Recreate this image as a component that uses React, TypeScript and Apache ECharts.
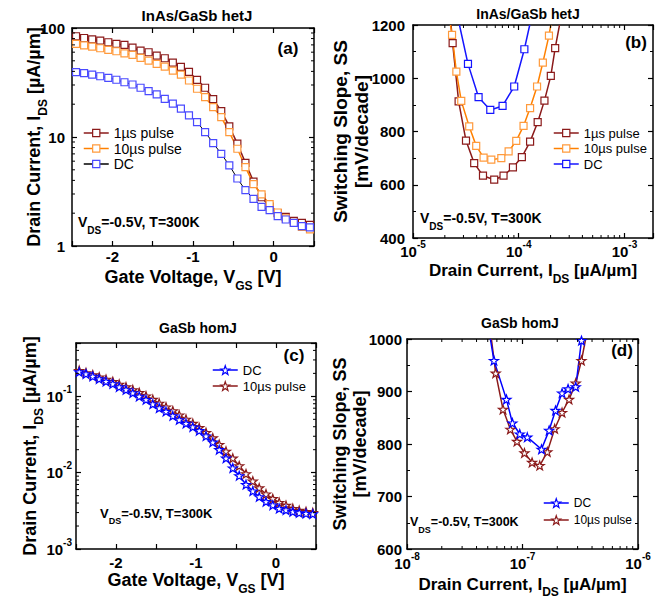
import React, { useEffect, useRef } from 'react';
import * as echarts from 'echarts';

const FONT = '"Liberation Sans", Arial, Helvetica, sans-serif';
const DARK_RED = '#8B1A1A';
const ORANGE = '#FF8000';
const ORANGE_SYM = '#FF9A3C';
const BLUE_A = '#4A4AFF';
const BLUE_B = '#1515FF';
const BLUE_C = '#0000FF';
const STAR = 'path://M50,3 L61.8,37.6 L98,38.2 L69.1,60.4 L79.4,95 L50,74.5 L20.6,95 L30.9,60.4 L2,38.2 L38.2,37.6 Z';

// ---------- Panel (a): InAs/GaSb hetJ, I_DS vs V_GS ----------
const vgsA = [-2.45, -2.35, -2.25, -2.15, -2.05, -1.95, -1.85, -1.75, -1.65, -1.55, -1.45, -1.35, -1.25, -1.15, -1.05, -0.95, -0.85, -0.75, -0.65, -0.55, -0.45, -0.35, -0.25, -0.15, -0.05, 0.05, 0.15, 0.25, 0.35, 0.45];
const idsA1us = [84, 81, 78.8, 76.6, 74, 71.4, 70, 66.1, 62, 59.9, 55.8, 52.8, 48.2, 44, 39.6, 33.4, 28.3, 22.3, 17.3, 12.5, 8.7, 5.8, 3.9, 2.8, 2.3, 2.0, 1.85, 1.7, 1.63, 1.56];
const idsA10us = [71.4, 69.4, 67.5, 65.2, 62.9, 61.2, 58.6, 56.6, 53.2, 50.3, 46.9, 44.3, 40.7, 37.4, 33, 27.7, 23.2, 18.8, 15.2, 11.1, 7.8, 5.3, 3.7, 2.97, 2.42, 2.03, 1.79, 1.63, 1.5, 1.42];
const idsADC = [39.3, 38.5, 37.4, 36.1, 34.9, 33.5, 31.8, 30.3, 28.3, 26.4, 24.6, 22.4, 20.2, 18.2, 15.8, 13.7, 11.1, 8.8, 7.0, 5.5, 4.16, 3.25, 2.71, 2.29, 2.13, 1.88, 1.75, 1.63, 1.52, 1.48];
const minorA = [2, 3, 4, 5, 6, 7, 8, 9, 20, 30, 40, 50, 60, 70, 80, 90];

// ---------- Panel (b): InAs/GaSb hetJ, SS vs I_DS ----------
const idsB1us = [2.29e-5, 2.37e-5, 2.70e-5, 3.17e-5, 3.79e-5, 4.59e-5, 5.86e-5, 7.18e-5, 8.81e-5, 1.07e-4, 1.28e-4, 1.51e-4, 1.75e-4, 2.01e-4, 2.21e-4, 2.43e-4];
const ssB1us = [1200, 1132, 913, 766, 681, 634, 619, 634, 665, 704, 762, 835, 916, 1009, 1113, 1200];
const idsB10us = [2.26e-5, 2.34e-5, 2.57e-5, 2.86e-5, 3.40e-5, 3.96e-5, 4.65e-5, 5.50e-5, 6.84e-5, 8.02e-5, 9.47e-5, 1.11e-4, 1.28e-4, 1.49e-4, 1.69e-4, 1.93e-4, 2.01e-4];
const ssB10us = [1200, 1163, 1025, 915, 819, 746, 702, 694, 700, 725, 765, 821, 888, 969, 1059, 1160, 1200];
const idsBDC = [2.75e-5, 3.31e-5, 4.17e-5, 5.38e-5, 7.03e-5, 9.06e-5, 1.13e-4, 1.27e-4];
const ssBDC = [1200, 1054, 929, 881, 896, 969, 1109, 1200];
const minorB = [2e-5, 3e-5, 4e-5, 5e-5, 6e-5, 7e-5, 8e-5, 9e-5, 2e-4, 3e-4, 4e-4, 5e-4, 6e-4, 7e-4, 8e-4, 9e-4];

// ---------- Panel (c): GaSb homJ, I_DS vs V_GS ----------
const vgsC = [-2.46, -2.375, -2.29, -2.21, -2.125, -2.04, -1.96, -1.875, -1.79, -1.71, -1.625, -1.54, -1.46, -1.375, -1.29, -1.21, -1.125, -1.04, -0.96, -0.875, -0.79, -0.71, -0.625, -0.54, -0.46, -0.375, -0.29, -0.21, -0.125, -0.04, 0.04, 0.125, 0.21, 0.29, 0.375, 0.46];
const idsCDC = [0.209, 0.197, 0.183, 0.169, 0.157, 0.146, 0.133, 0.122, 0.111, 0.100, 0.0904, 0.0794, 0.0703, 0.0635, 0.0557, 0.0493, 0.0442, 0.0398, 0.0355, 0.0302, 0.0251, 0.0200, 0.0155, 0.0115, 0.00912, 0.0070, 0.00575, 0.00483, 0.00417, 0.00376, 0.00339, 0.00324, 0.00309, 0.00298, 0.00292, 0.00288];
const idsC10us = [0.218, 0.204, 0.191, 0.179, 0.167, 0.156, 0.144, 0.133, 0.122, 0.112, 0.101, 0.0912, 0.0813, 0.0724, 0.0646, 0.0569, 0.0501, 0.0442, 0.0389, 0.0335, 0.0285, 0.0234, 0.0191, 0.0155, 0.0123, 0.00966, 0.00776, 0.00631, 0.00525, 0.00457, 0.00407, 0.00372, 0.00339, 0.0032, 0.00309, 0.00299];
const minorC = [2e-3, 3e-3, 4e-3, 5e-3, 6e-3, 7e-3, 8e-3, 9e-3, 2e-2, 3e-2, 4e-2, 5e-2, 6e-2, 7e-2, 8e-2, 9e-2, 2e-1, 3e-1, 4e-1];

// ---------- Panel (d): GaSb homJ, SS vs I_DS ----------
const idsDDC = [5.27e-8, 5.66e-8, 7.26e-8, 8.18e-8, 9.47e-8, 1.10e-7, 1.46e-7, 1.70e-7, 1.93e-7, 2.20e-7, 2.48e-7, 2.89e-7, 3.24e-7, 3.26e-7];
const ssDDC = [1000, 959, 885, 840, 819, 813, 790, 826, 864, 897, 905, 909, 997, 1000];
const idsD10us = [5.38e-8, 5.86e-8, 6.78e-8, 7.85e-8, 8.96e-8, 1.04e-7, 1.21e-7, 1.41e-7, 1.64e-7, 1.90e-7, 2.20e-7, 2.53e-7, 2.89e-7, 3.24e-7, 3.52e-7];
const ssD10us = [1000, 935, 866, 828, 805, 783, 765, 759, 785, 829, 860, 885, 916, 959, 1000];
const minorD = [2e-8, 3e-8, 4e-8, 5e-8, 6e-8, 7e-8, 8e-8, 9e-8, 2e-7, 3e-7, 4e-7, 5e-7, 6e-7, 7e-7, 8e-7, 9e-7];

// ---------- layout ----------
const GRIDS = [
  { left: 72, top: 28, width: 242, height: 218 },
  { left: 413, top: 25, width: 240, height: 213 },
  { left: 76, top: 343, width: 240, height: 206 },
  { left: 407, top: 339, width: 231, height: 210 },
];

const tickRich = {
  p: { fontFamily: FONT, fontSize: 15, fontWeight: 'bold', color: '#000', lineHeight: 15, verticalAlign: 'middle' },
  b: { fontFamily: FONT, fontSize: 15, fontWeight: 'bold', color: '#000', lineHeight: 14, verticalAlign: 'middle' },
  sup: { fontFamily: FONT, fontSize: 10, fontWeight: 'bold', color: '#000', lineHeight: 10, padding: [0, 0, 9, 0], verticalAlign: 'bottom' },
};

// subscript placed `offset` px below the main text centre; L = line height of the main text
const subRich = (fs: number, subFs: number, offset: number, L = fs + 2) => ({
  m: { fontFamily: FONT, fontSize: fs, fontWeight: 'bold', color: '#000', fill: '#000', lineHeight: L, verticalAlign: 'middle' },
  s: { fontFamily: FONT, fontSize: subFs, fontWeight: 'bold', color: '#000', fill: '#000', lineHeight: subFs, padding: [Math.max(0, Math.round(offset + L / 2 - subFs / 2)), 0, 0, 0], verticalAlign: 'top' },
});

const fmtLog = (v: number) => {
  const e = Math.log10(v);
  const r = Math.round(e);
  if (Math.abs(e - r) > 1e-6) return '';
  return `{b|10}{sup|${r}}`;
};
const fmtLogPlain = (v: number) => {
  const e = Math.log10(v);
  const r = Math.round(e);
  if (Math.abs(e - r) > 1e-6) return '';
  return `{p|${Math.round(v)}}`;
};
const fmtVolt = (v: number) => (Math.abs(v - Math.round(v)) < 1e-9 ? `{p|${Math.round(v) === 0 ? 0 : Math.round(v)}}` : '');
const fmtLin = (v: number) => `{p|${v}}`;

function mkAxis(o: any) {
  return {
    axisLine: { show: true, onZero: false, lineStyle: { color: '#000', width: 1.5 } },
    axisTick: { show: true, inside: true, length: 5, lineStyle: { color: '#000', width: 1.2 } },
    splitLine: { show: false },
    nameMoveOverlap: false,
    ...o,
  };
}

function toData(xs: number[], ys: number[], edge?: number) {
  return xs.map((x, i) =>
    edge !== undefined && ys[i] >= edge ? { value: [x, ys[i]], symbol: 'none' } : [x, ys[i]]
  );
}

function lineSeries(name: string, gi: number, data: any[], symbol: string, size: number, symColor: string, lineColor: string, lineWidth = 1.5) {
  return {
    type: 'line',
    name,
    xAxisIndex: gi * 2,
    yAxisIndex: gi * 2,
    data,
    symbol,
    symbolSize: size,
    symbolKeepAspect: true,
    itemStyle: { color: '#fff', borderColor: symColor, borderWidth: 1.2 },
    lineStyle: { color: lineColor, width: lineWidth },
    emphasis: { disabled: true },
    z: 3,
  };
}

function minorTicks(gi: number, dir: 'x' | 'y', values: number[], other: number) {
  return {
    type: 'custom',
    xAxisIndex: gi * 2,
    yAxisIndex: gi * 2,
    silent: true,
    clip: false,
    z: 10,
    data: values.map((v) => (dir === 'x' ? [v, other] : [other, v])),
    renderItem: (params: any, api: any) => {
      const cs = params.coordSys;
      const p = api.coord([api.value(0), api.value(1)]);
      const st = { stroke: '#000', lineWidth: 1 };
      const L = 3;
      if (dir === 'x') {
        return {
          type: 'group',
          children: [
            { type: 'line', shape: { x1: p[0], y1: cs.y + cs.height, x2: p[0], y2: cs.y + cs.height - L }, style: st },
            { type: 'line', shape: { x1: p[0], y1: cs.y, x2: p[0], y2: cs.y + L }, style: st },
          ],
        };
      }
      return {
        type: 'group',
        children: [
          { type: 'line', shape: { x1: cs.x, y1: p[1], x2: cs.x + L, y2: p[1] }, style: st },
          { type: 'line', shape: { x1: cs.x + cs.width, y1: p[1], x2: cs.x + cs.width - L, y2: p[1] }, style: st },
        ],
      };
    },
  };
}

function legendItem(name: string, symColor: string, lineColor: string, lineWidth = 1.5) {
  return { name, itemStyle: { color: '#fff', borderColor: symColor, borderWidth: 1.2 }, lineStyle: { color: lineColor, width: lineWidth, type: 'solid' } };
}

function legend(items: any[], left: number, centerY: number, fs: number, pitch: number, itemH: number) {
  return {
    data: items,
    orient: 'vertical',
    left,
    top: centerY - pitch / 2,
    itemWidth: 25,
    itemHeight: itemH,
    itemGap: 0,
    padding: 0,
    selectedMode: false,
    formatter: (n: string) => n.split('|')[1],
    textStyle: { fontFamily: FONT, fontSize: fs, color: '#000', lineHeight: pitch },
  };
}

function txt(x: number, y: number, text: string, fs: number, align = 'center', weight = 'bold') {
  return {
    type: 'text',
    x,
    y,
    style: { text, fill: '#000', fontFamily: FONT, fontSize: fs, fontWeight: weight, align, verticalAlign: 'middle' },
  };
}

function vdsText(x: number, y: number, fs: number) {
  return {
    type: 'text',
    x,
    y,
    style: {
      text: '{m|V}{s|DS}{m|=-0.5V, T=300K}',
      align: 'left',
      verticalAlign: 'middle',
      rich: subRich(fs, Math.round(fs * 0.72), 8),
    },
  };
}

function buildOption() {
  const xA = { type: 'value', min: -2.5, max: 0.5, interval: 0.5 };
  const yA = { type: 'log', logBase: 10, min: 1, max: 100 };
  const xB = { type: 'log', logBase: 10, min: 1e-5, max: 1.86e-3 };
  const yB = { type: 'value', min: 400, max: 1200, interval: 200, minorTick: { show: true, splitNumber: 2, length: 3, lineStyle: { color: '#000', width: 1 } } };
  const xC = { type: 'value', min: -2.5, max: 0.5, interval: 0.5 };
  const yC = { type: 'log', logBase: 10, min: 1e-3, max: 0.5 };
  const xD = { type: 'log', logBase: 10, min: 1e-8, max: 1e-6 };
  const yD = { type: 'value', min: 600, max: 1000, interval: 100, minorTick: { show: true, splitNumber: 2, length: 3, lineStyle: { color: '#000', width: 1 } } };

  const currentName = '{m|Drain Current, I}{s|DS}{m| [µA/µm]}';
  const gateName = '{m|Gate Voltage, V}{s|GS}{m| [V]}';
  const ssName = '{m|Switching Slope, SS}\n{m|[mV/decade]}';

  const xAxis = [
    mkAxis({ gridIndex: 0, position: 'bottom', ...xA, axisLabel: { formatter: fmtVolt, rich: tickRich, margin: 3 }, name: gateName, nameLocation: 'middle', nameGap: 21, nameTextStyle: { rich: subRich(18, 12, 9) } }),
    mkAxis({ gridIndex: 0, position: 'top', ...xA, axisLabel: { show: false } }),
    mkAxis({ gridIndex: 1, position: 'bottom', ...xB, axisLabel: { formatter: fmtLog, rich: tickRich, margin: 6 }, name: currentName, nameLocation: 'middle', nameGap: 25, nameTextStyle: { rich: subRich(17, 12, 9, 14) } }),
    mkAxis({ gridIndex: 1, position: 'top', ...xB, axisLabel: { show: false } }),
    mkAxis({ gridIndex: 2, position: 'bottom', ...xC, axisLabel: { formatter: fmtVolt, rich: tickRich, margin: 6 }, name: gateName, nameLocation: 'middle', nameGap: 21, nameTextStyle: { rich: subRich(18, 12, 9) } }),
    mkAxis({ gridIndex: 2, position: 'top', ...xC, axisLabel: { show: false } }),
    mkAxis({ gridIndex: 3, position: 'bottom', ...xD, axisLabel: { formatter: fmtLog, rich: tickRich, margin: 7 }, name: currentName, nameLocation: 'middle', nameGap: 26, nameTextStyle: { rich: subRich(17, 12, 7) } }),
    mkAxis({ gridIndex: 3, position: 'top', ...xD, axisLabel: { show: false } }),
  ];

  const yAxis = [
    mkAxis({ gridIndex: 0, position: 'left', ...yA, axisLabel: { formatter: fmtLogPlain, rich: tickRich, margin: 7 }, name: currentName, nameLocation: 'middle', nameRotate: 90, nameGap: 28, nameTextStyle: { rich: subRich(18, 12, 9) } }),
    mkAxis({ gridIndex: 0, position: 'right', ...yA, axisLabel: { show: false } }),
    mkAxis({ gridIndex: 1, position: 'left', ...yB, axisLabel: { formatter: fmtLin, rich: tickRich, margin: 8 }, name: ssName, nameLocation: 'middle', nameRotate: 90, nameGap: 41, nameTextStyle: { rich: subRich(19, 12, 9) } }),
    mkAxis({ gridIndex: 1, position: 'right', ...yB, axisLabel: { show: false } }),
    mkAxis({ gridIndex: 2, position: 'left', ...yC, axisLabel: { formatter: fmtLog, rich: tickRich, margin: 4 }, name: currentName, nameLocation: 'middle', nameRotate: 90, nameGap: 36, nameTextStyle: { rich: subRich(18, 12, 9) } }),
    mkAxis({ gridIndex: 2, position: 'right', ...yC, axisLabel: { show: false } }),
    mkAxis({ gridIndex: 3, position: 'left', ...yD, axisLabel: { formatter: fmtLin, rich: tickRich, margin: 5 }, name: ssName, nameLocation: 'middle', nameRotate: 90, nameGap: 37, nameTextStyle: { rich: subRich(18, 12, 9) } }),
    mkAxis({ gridIndex: 3, position: 'right', ...yD, axisLabel: { show: false } }),
  ];

  const series = [
    // (a)
    lineSeries('a|1µs pulse', 0, toData(vgsA, idsA1us), 'rect', 7, DARK_RED, DARK_RED),
    lineSeries('a|10µs pulse', 0, toData(vgsA, idsA10us), 'rect', 7, ORANGE_SYM, ORANGE),
    lineSeries('a|DC', 0, toData(vgsA, idsADC), 'rect', 7, BLUE_A, '#000', 1),
    minorTicks(0, 'y', minorA, -2.5),
    // (b)
    lineSeries('b|1µs pulse', 1, toData(idsB1us, ssB1us, 1200), 'rect', 7, DARK_RED, DARK_RED),
    lineSeries('b|10µs pulse', 1, toData(idsB10us, ssB10us, 1200), 'rect', 7, ORANGE_SYM, ORANGE),
    lineSeries('b|DC', 1, toData(idsBDC, ssBDC, 1200), 'rect', 7, BLUE_B, BLUE_B),
    minorTicks(1, 'x', minorB, 400),
    // (c)
    lineSeries('c|10µs pulse', 2, toData(vgsC, idsC10us), STAR, 9, DARK_RED, DARK_RED),
    lineSeries('c|DC', 2, toData(vgsC, idsCDC), STAR, 9, BLUE_C, BLUE_C),
    minorTicks(2, 'y', minorC, -2.5),
    // (d)
    lineSeries('d|10µs pulse', 3, toData(idsD10us, ssD10us, 1000), STAR, 9, DARK_RED, DARK_RED),
    lineSeries('d|DC', 3, toData(idsDDC, ssDDC, 1000), STAR, 9, BLUE_C, BLUE_C),
    minorTicks(3, 'x', minorD, 600),
  ];

  const legends = [
    legend([legendItem('a|1µs pulse', DARK_RED, DARK_RED), legendItem('a|10µs pulse', ORANGE_SYM, ORANGE), legendItem('a|DC', BLUE_A, '#000')], 83, 133, 14, 15.5, 9),
    legend([legendItem('b|1µs pulse', DARK_RED, DARK_RED), legendItem('b|10µs pulse', ORANGE_SYM, ORANGE), legendItem('b|DC', BLUE_B, BLUE_B)], 553, 133, 13, 15.5, 9),
    legend([legendItem('c|DC', BLUE_C, BLUE_C), legendItem('c|10µs pulse', DARK_RED, DARK_RED)], 212, 370, 13, 16, 11),
    legend([legendItem('d|DC', BLUE_C, BLUE_C), legendItem('d|10µs pulse', DARK_RED, DARK_RED)], 543, 503, 12, 17, 11),
  ];

  const graphicEls = [
    txt(197, 15, 'InAs/GaSb hetJ', 15),
    txt(528, 14, 'InAs/GaSb hetJ', 14),
    txt(198, 328, 'GaSb homJ', 14),
    txt(520, 323, 'GaSb homJ', 14),
    txt(288, 48, '(a)', 17),
    txt(636, 42, '(b)', 17),
    txt(294, 355, '(c)', 17),
    txt(622, 350, '(d)', 17),
    vdsText(78, 222, 14),
    vdsText(420, 218, 14),
    vdsText(100, 513, 13),
    vdsText(410, 522, 12.5),
  ];

  return {
    animation: false,
    backgroundColor: '#fff',
    textStyle: { fontFamily: FONT },
    grid: GRIDS.map((g) => ({ ...g, containLabel: false, outerBoundsMode: 'none' })),
    xAxis,
    yAxis,
    legend: legends,
    series,
    graphic: { elements: graphicEls },
  };
}

export default function App() {
  const ref = useRef<HTMLDivElement>(null);
  useEffect(() => {
    document.body.style.margin = '0';
    const chart = echarts.init(ref.current as HTMLDivElement, null, { renderer: 'svg' });
    chart.setOption(buildOption() as any);
    return () => chart.dispose();
  }, []);
  return <div ref={ref} style={{ width: 663, height: 599 }} />;
}
